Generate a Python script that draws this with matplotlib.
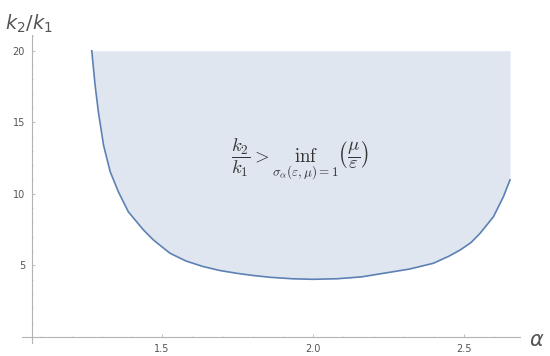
import numpy as np
import matplotlib.pyplot as plt
from matplotlib.ticker import MultipleLocator

# curve
alpha = [1.267, 1.278, 1.289, 1.306, 1.328, 1.355, 1.388, 1.438,
         1.471, 1.526, 1.58, 1.636, 1.69, 1.747, 1.80, 1.858, 1.93, 2.00,
         2.08, 2.16, 2.233, 2.32, 2.398, 2.45, 2.487, 2.523, 2.553, 2.597,
         2.630, 2.652]
ratio = [20.0, 17.6, 15.7, 13.4, 11.55, 10.15, 8.75, 7.48,
         6.78, 5.85, 5.3, 4.92, 4.65, 4.45, 4.3, 4.17, 4.07, 4.03,
         4.07, 4.2, 4.45, 4.75, 5.15, 5.65, 6.08, 6.6, 7.25, 8.4,
         9.8, 10.98]
y_top = 20
xticks = [1.5, 2.0, 2.5]
xticklabels = ["1.5", "2.0", "2.5"]
yticks = [5, 10, 15, 20]

line_col = "#5e81b5"
fill_col = "#dfe6f0"
axis_col = "#b3b3b3"
text_col = "#555555"

plt.rcParams["mathtext.fontset"] = "cm"

fig = plt.figure(figsize=(5.5, 3.56), dpi=100)
ax = fig.add_axes([22/550, 13/356, 498/550, 308/356])

a = np.array(alpha)
r = np.array(ratio)
ax.fill_between(a, r, y_top, color=fill_col, linewidth=0)
ax.plot(a, r, color=line_col, linewidth=1.2, solid_joinstyle="round")

ax.set_xlim(1.036, 2.685)
ax.set_ylim(-0.42, 21.1)

for s in ["top", "right"]:
    ax.spines[s].set_visible(False)
ax.spines["left"].set_position(("data", 1.069))
ax.spines["bottom"].set_position(("data", 0))
for s in ["left", "bottom"]:
    ax.spines[s].set_color(axis_col)
    ax.spines[s].set_linewidth(0.8)

ax.set_xticks(xticks)
ax.set_xticklabels(xticklabels)
ax.set_yticks(yticks)
ax.xaxis.set_minor_locator(MultipleLocator(0.1))
ax.yaxis.set_minor_locator(MultipleLocator(1))
ax.tick_params(which="major", direction="in", length=2.5, width=0.6,
               color=axis_col, labelsize=7, labelcolor=text_col, pad=5)
ax.tick_params(which="minor", direction="in", length=1.5, width=0.5,
               color="#dddddd")

# axis labels
fig.text(5/550, 1 - 30/356, r"$k_2/k_1$", math_fontfamily="dejavusans",
         fontsize=14, color="#555555")
fig.text(529/550, 1 - 346/356, r"$\alpha$", math_fontfamily="dejavusans",
         fontsize=15, color="#555555")

ax.text(1.957, 12.4,
        r"$\dfrac{k_2}{k_1} > \underset{\sigma_\alpha(\varepsilon,\mu)=1}{\mathrm{inf}}"
        r"\left(\dfrac{\mu}{\varepsilon}\right)$",
        ha="center", va="center", fontsize=13.5, color="#333333")

fig.savefig("out.png", dpi=100)
